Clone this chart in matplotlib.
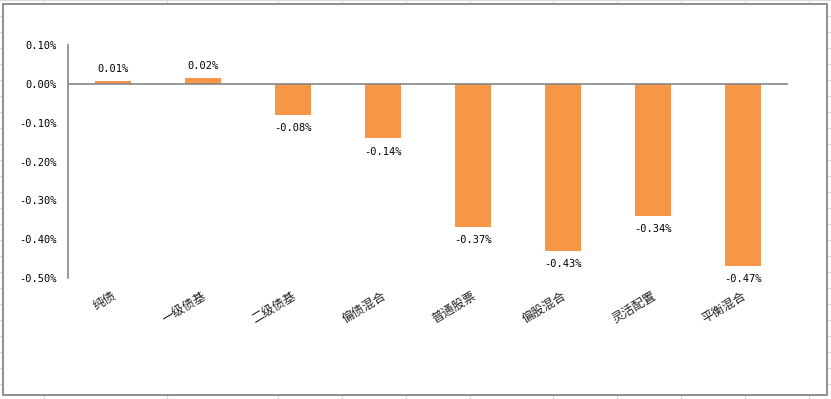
import matplotlib
matplotlib.use("Agg")
import matplotlib.pyplot as plt
from matplotlib.patches import Rectangle
from matplotlib.lines import Line2D

plt.rcParams['font.family'] = ['Noto Sans CJK SC', 'DejaVu Sans']

categories = ['纯债', '一级债基', '二级债基', '偏债混合', '普通股票', '偏股混合', '灵活配置', '平衡混合']
values = [0.008, 0.016, -0.08, -0.14, -0.368, -0.43, -0.34, -0.468]
yticks = [0.10, 0.00, -0.10, -0.20, -0.30, -0.40, -0.50]

# spreadsheet background grid (pixel positions)
col_lines = [44, 167, 278, 342, 406, 470, 553, 617, 681, 745, 809]
row_lines = list(range(0, 400, 16))

W, H = 831, 399
fig = plt.figure(figsize=(W / 100, H / 100), dpi=100)

for x in col_lines:
    fig.add_artist(Line2D([x / W, x / W], [0, 1], color='#d9d9d9', lw=0.8, zorder=0))
for y in row_lines:
    fig.add_artist(Line2D([0, 1], [1 - y / H, 1 - y / H], color='#d9d9d9', lw=0.8, zorder=0))

# chart area
fig.add_artist(Rectangle((3.5 / W, 1 - 394.5 / H), 823 / W, 391 / H, facecolor='white',
                         edgecolor='#878787', lw=1.3, zorder=1))

left, right, top, bottom = 68, 788, 45, 278
ax = fig.add_axes([left / W, 1 - bottom / H, (right - left) / W, (bottom - top) / H], zorder=2)
ax.patch.set_alpha(0)

x = list(range(len(categories)))
ax.bar(x, values, width=0.4, color='#F79646', zorder=2)
ax.axhline(0, color='#868686', lw=1.2, zorder=3)

ax.set_xlim(-0.5, len(categories) - 0.5)
ax.set_ylim(-0.50, 0.10)
ax.set_yticks(yticks)
ax.set_yticklabels([f'{v:.2f}%' for v in yticks],
                   family=['DejaVu Sans Mono'], fontsize=7.5)
ax.tick_params(axis='y', length=0, pad=8)
ax.set_xticks([])

for s in ['top', 'right', 'bottom']:
    ax.spines[s].set_visible(False)
ax.spines['left'].set_color('#868686')
ax.spines['left'].set_linewidth(1.2)

for xi, v in zip(x, values):
    lab = f'{v:.2f}%'
    if v >= 0:
        ax.annotate(lab, (xi, v), xytext=(0, 5), textcoords='offset points',
                    ha='center', va='bottom', family=['DejaVu Sans Mono'], fontsize=7.5)
    else:
        ax.annotate(lab, (xi, v), xytext=(0, -6), textcoords='offset points',
                    ha='center', va='top', family=['DejaVu Sans Mono'], fontsize=7.5)

for xi, c in zip(x, categories):
    ax.annotate(c, (xi, -0.50), xytext=(-1, -8), textcoords='offset points',
                ha='right', va='top', rotation=31, rotation_mode='anchor',
                fontsize=8.8, color='#222222')

fig.savefig('out.png', dpi=100)
